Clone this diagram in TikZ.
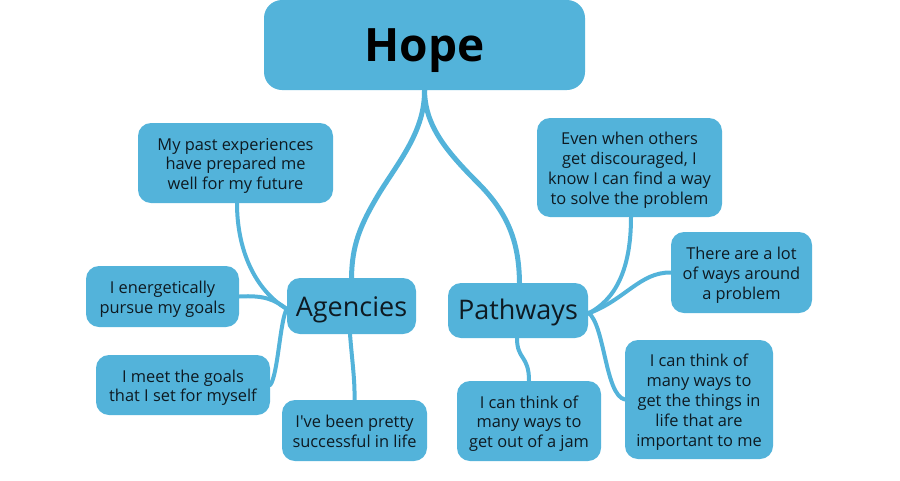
\documentclass[tikz,border=0pt]{standalone}
\usepackage{fontspec}
\setmainfont{Open Sans}
\newfontfamily\nomap{Open Sans}
\usetikzlibrary{backgrounds}
\definecolor{hb}{HTML}{53B3DA}
\definecolor{txt}{HTML}{0E1A22}
\newcommand\bt[2][-3pt]{\raisebox{#1}[\height][\depth]{\begin{tabular}{@{}c@{}}#2\end{tabular}}}
\tikzset{
  box/.style={fill=hb, rounded corners=13pt, inner sep=0pt, text=txt,
    font=\fontsize{16.4}{19.8}\selectfont},
  bigbox/.style={box, font=\fontsize{27}{30}\selectfont},
  conn/.style={draw=hb, line width=4pt, line cap=round},
  trunk/.style={draw=hb, line width=5pt, line cap=round}
}
\begin{document}
\begin{tikzpicture}[x=1pt,y=-1pt]
\useasboundingbox (0,0) rectangle (900,480);
\node[box, rounded corners=18pt, minimum width=321pt, minimum height=90pt, font=\fontsize{46}{50}\selectfont\bfseries, text=black] (hope) at (424.5,45) {\bt[-6pt]{Hope}};
\node[bigbox, minimum width=129pt, minimum height=56pt] (ag) at (351.5,306) {\bt[-4pt]{Agencies}};
\node[bigbox, minimum width=140pt, minimum height=55pt] (pw) at (518,310.5) {\bt[-3pt]{Pathways}};
\node[box, minimum width=195pt, minimum height=80pt] (past) at (235.5,163) {\bt{My past experiences\\have prepared me\\well for my future}};
\node[box, minimum width=153pt, minimum height=61pt] (ener) at (162.5,296.5) {\bt{I energetically\\pursue my goals}};
\node[box, minimum width=174pt, minimum height=60pt] (meet) at (183,385) {\bt{I meet the goals\\that I set for myself}};
\node[box, minimum width=145pt, minimum height=61pt] (succ) at (354.5,430.5) {\bt{I{\nomap'}ve been pretty\\successful in life}};
\node[box, minimum width=185pt, minimum height=99pt] (even) at (629.5,167.5) {\bt{Even when others\\get discouraged, I\\know I can find a way\\to solve the problem}};
\node[box, minimum width=141pt, minimum height=81pt] (lot) at (741.5,272.5) {\bt{There are a lot\\of ways around\\a problem}};
\node[box, minimum width=144pt, minimum height=80pt] (jam) at (529,421) {\bt{I can think of\\many ways to\\get out of a jam}};
\node[box, minimum width=148pt, minimum height=119pt] (things) at (699,399.5) {\bt{I can think of\\many ways to\\get the things in\\life that are\\important to me}};
\begin{scope}[on background layer]
\draw[trunk] (hope.south) .. controls (425,130) and (400,160) .. (380,192) .. controls (360,225) and (352,245) .. (ag.north);
\draw[trunk] (hope.south) .. controls (425,125) and (445,150) .. (478,183) .. controls (510,215) and (519,245) .. ([xshift=1.5pt]pw.north);
\draw[conn] ([xshift=1.5pt]past.south) .. controls (237,250) and (255,290) .. ([yshift=-3pt]ag.west);
\draw[conn] (ener.east) .. controls (265,295) and (275,300) .. ([yshift=-3pt]ag.west);
\draw[conn] ([yshift=-3pt]ag.west) .. controls (280,320) and (278,375) .. (meet.east);
\draw[conn] ([xshift=-1.5pt]ag.south) .. controls (352,360) and (355,380) .. (succ.north);
\draw[conn] ([xshift=1.5pt]even.south) .. controls (631,270) and (615,300) .. ([yshift=-3pt]pw.east);
\draw[conn] (lot.west) .. controls (640,272) and (625,300) .. ([yshift=-3pt]pw.east);
\draw[conn] ([yshift=-2pt]pw.east) .. controls (605,325) and (605,395) .. (things.west);
\draw[conn] ([xshift=-1pt]pw.south) .. controls (517,360) and (529,355) .. (jam.north);
\end{scope}
\end{tikzpicture}
\end{document}
